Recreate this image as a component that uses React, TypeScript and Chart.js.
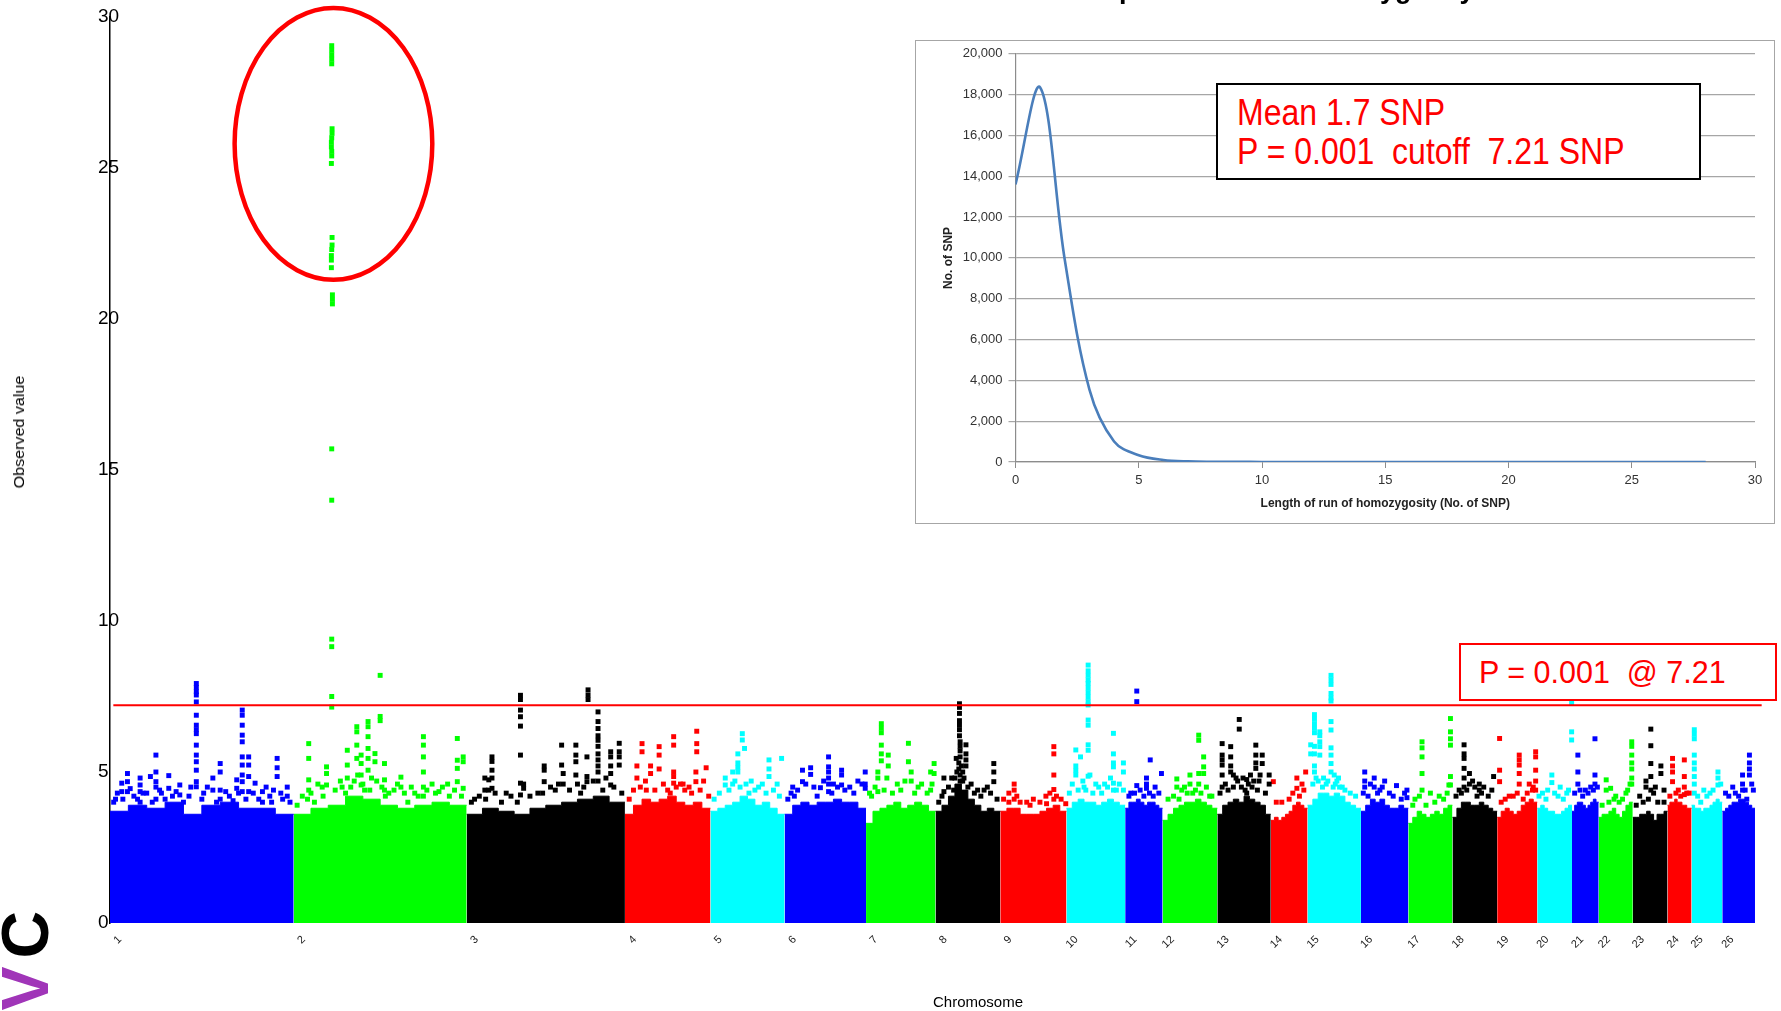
import React, { useEffect, useRef } from 'react';
import { Chart, registerables } from 'chart.js';

Chart.register(...registerables);

const FONT = '"Liberation Sans", Arial, Helvetica, sans-serif';

// ---------- main Manhattan plot data ----------
const chromLabels = ['1','2','3','4','5','6','7','8','9','10','11','12','13','14','15','16','17','18','19','20','21','22','23','24','25','26'];
// chromosome lengths (Mb)
const chromLengths = [275,259,237,128,111,122,104,97,99,88,56,82,80,55,80,71,66,67,60,52,40,51,52,36,46,49];
const palette = ['#0000ff','#00ff00','#000000','#ff0000','#00ffff'];
const threshold = 7.21;
const xMax = 2475;

// height of the dense (solid) band along each chromosome, 10 segments left→right
const bandTop: number[][] = [
  [3.7,3.9,3.8,4.0,3.6,3.9,4.0,3.8,3.8,3.6],
  [3.6,3.8,3.9,4.2,4.1,3.9,3.8,3.9,4.0,3.9],
  [3.6,3.8,3.7,3.6,3.8,3.9,4.0,4.1,4.2,4.0],
  [3.6,3.9,4.1,4.0,4.1,4.2,4.0,3.9,4.0,3.8],
  [3.7,3.8,3.9,4.0,4.2,4.1,3.9,4.0,3.8,3.6],
  [3.6,3.9,4.0,3.9,4.0,4.0,4.1,4.0,4.0,3.8],
  [3.3,3.7,3.8,3.9,4.0,3.8,3.9,4.0,3.9,3.7],
  [3.7,3.9,4.2,4.6,4.4,4.1,3.9,3.7,3.8,3.7],
  [3.7,3.8,3.8,3.6,3.6,3.6,3.7,3.8,3.9,3.7],
  [3.8,4.0,4.1,4.0,4.0,3.9,4.0,4.1,4.0,3.9],
  [3.8,4.0,4.0,4.1,4.0,3.9,4.0,4.0,3.9,3.8],
  [3.4,3.6,3.8,3.9,4.0,4.0,4.1,4.0,3.9,3.8],
  [3.6,3.9,4.0,4.1,4.0,4.2,4.1,4.0,3.9,3.6],
  [3.4,3.5,3.4,3.5,3.6,3.7,3.9,4.0,3.9,3.8],
  [3.9,4.1,4.3,4.3,4.2,4.3,4.2,4.0,3.9,3.8],
  [3.7,3.9,4.1,4.0,4.1,3.9,3.8,3.8,3.9,3.8],
  [3.3,3.5,3.7,3.6,3.5,3.6,3.7,3.6,3.8,3.9],
  [3.5,3.8,4.0,4.0,3.9,3.9,4.0,3.9,3.8,3.7],
  [3.5,3.7,3.8,3.7,3.6,3.7,3.9,4.0,4.1,4.0],
  [3.8,3.9,3.8,3.7,3.7,3.6,3.6,3.7,3.8,3.9],
  [3.7,3.9,4.0,4.0,3.9,3.8,3.9,4.0,4.1,4.0],
  [3.5,3.6,3.6,3.7,3.8,3.6,3.5,3.7,3.9,4.0],
  [3.5,3.5,3.6,3.6,3.7,3.6,3.4,3.6,3.6,3.7],
  [3.9,4.0,4.0,4.1,4.0,4.0,3.9,3.9,3.8,3.8],
  [3.9,3.8,3.8,3.7,3.8,3.8,3.9,4.0,4.1,4.0],
  [3.7,3.8,3.9,4.0,4.0,4.1,4.1,4.0,3.9,3.8],
];

// individual SNP scores standing out above the band: [fraction along chromosome, observed value]
const hits: number[][][] = [
  [[.47,7.93],[.47,7.8],[.47,7.66],[.47,7.55],[.47,7.32],[.47,6.88],[.47,6.55],[.47,6.4],[.47,6.27],[.47,5.89],[.47,5.56],[.47,5.34],[.47,5.06],[.47,4.68],[.47,4.51],
   [.72,7.05],[.72,6.88],[.72,6.55],[.72,6.22],[.72,6.0],[.72,5.5],[.72,5.23],[.72,4.9],[.72,4.68],[.72,4.35],
   [.25,5.56],[.25,5.0],[.25,4.68],[.25,4.5],[.25,4.1],[.095,4.95],[.095,4.68],[.095,4.35],[.064,4.63],[.064,4.35],
   [.164,4.8],[.164,4.57],[.164,4.35],[.164,4.0],[.22,4.85],[.32,4.88],[.32,4.46],[.38,4.57],[.38,4.24],[.34,4.2],
   [.56,4.8],[.56,4.4],[.6,5.28],[.6,5.0],[.6,4.4],[.6,4.1],[.69,4.74],[.69,4.46],[.755,5.5],[.755,5.23],[.755,4.85],[.755,4.35],
   [.79,4.63],[.83,4.35],[.83,4.0],[.91,5.45],[.91,5.14],[.91,4.85],[.965,4.5],[.965,4.2],[.87,4.2],[.89,4.4],
   [.03,4.1],[.13,4.2],[.2,4.3],[.28,4.3],[.43,4.2],[.51,4.3],[.65,4.2],[.94,4.1]],
  [[.22,29.05],[.22,28.9],[.22,28.75],[.22,28.6],[.22,28.45],
   [.222,26.3],[.222,26.15],[.22,26.0],[.218,25.85],[.218,25.7],[.22,25.55],[.22,25.4],[.218,25.15],
   [.222,22.7],[.222,22.45],[.22,22.3],[.218,22.1],[.218,21.95],[.218,21.7],[.224,20.8],[.224,20.65],[.224,20.5],
   [.22,15.7],[.22,14.0],[.22,9.4],[.22,9.15],[.22,7.5],[.22,7.15],
   [.5,8.2],[.5,6.84],[.5,6.7],[.43,6.67],[.43,6.5],[.43,6.17],[.43,5.78],[.43,5.45],[.43,5.06],[.365,6.5],[.365,6.33],[.365,5.89],[.365,5.45],
   [.087,5.94],[.087,5.45],[.087,4.74],[.087,4.4],[.19,5.17],[.19,4.95],[.19,4.57],[.31,5.72],[.31,5.23],[.31,4.8],[.39,5.56],[.39,5.28],[.39,4.9],[.39,4.57],
   [.47,5.61],[.47,5.34],[.525,5.28],[.525,4.74],[.525,4.4],[.75,6.17],[.75,5.89],[.75,5.5],[.75,5.0],[.75,4.5],[.75,4.2],
   [.946,6.11],[.946,5.39],[.946,5.12],[.946,4.68],[.98,5.5],[.98,5.34],[.98,4.46],[.62,4.83],[.62,4.5],[.8,4.6],[.84,4.35],[.89,4.6],
   [.28,4.5],[.3,4.3],[.08,4.1],[.12,4.0],[.165,4.5],[.53,4.2],[.66,4.0],[.35,4.7],[.41,4.4],[.45,4.8],[.58,4.4],[.7,4.3]],
  [[.34,7.54],[.34,7.4],[.34,7.05],[.34,6.83],[.34,6.52],[.34,5.56],[.34,4.63],[.34,4.24],
   [.16,5.5],[.16,5.35],[.16,5.06],[.16,4.8],[.16,4.46],[.115,4.8],[.115,4.4],[.14,4.74],[.14,4.4],
   [.767,7.72],[.767,7.55],[.767,7.4],[.83,6.99],[.83,6.67],[.83,6.44],[.83,6.2],[.83,6.05],[.83,5.85],[.83,5.6],[.83,5.4],[.83,5.2],[.83,5.0],[.83,4.7],
   [.964,5.95],[.964,5.67],[.964,5.5],[.964,5.23],[.91,5.67],[.91,5.5],[.91,5.2],[.91,4.95],[.91,4.57],
   [.69,5.89],[.69,5.56],[.69,5.34],[.69,4.9],[.6,5.89],[.6,5.23],[.49,5.2],[.49,5.06],[.49,4.68],[.61,4.95],[.61,4.6],
   [.76,5.5],[.76,4.85],[.76,4.68],[.36,4.6],[.36,4.46],[.45,4.3],[.56,4.4],[.72,4.3],[.25,4.3],[.05,4.1]],
  [[.84,6.35],[.84,5.94],[.84,5.67],[.57,6.17],[.57,5.89],[.57,5.0],[.57,4.85],[.57,4.63],[.2,5.94],[.2,5.67],[.4,5.84],[.4,5.56],[.4,5.1],
   [.14,5.2],[.14,4.8],[.95,5.14],[.83,5.0],[.83,4.68],[.3,5.2],[.3,4.95],[.65,4.6],[.7,4.4],[.75,4.5],[.5,4.4],[.25,4.4]],
  [[.43,6.27],[.43,6.06],[.46,5.78],[.37,5.6],[.37,5.3],[.37,5.15],[.37,5.0],[.79,5.4],[.79,5.1],[.79,4.85],[.96,5.45],
   [.2,4.8],[.2,4.57],[.3,5.0],[.3,4.6],[.55,4.7],[.65,4.5],[.9,4.6]],
  [[.54,5.5],[.54,5.17],[.54,5.0],[.54,4.8],[.54,4.6],[.54,4.35],[.32,5.14],[.32,4.92],[.22,5.06],[.22,4.68],[.7,5.06],[.7,4.9],[.7,4.57],
   [.99,5.0],[.99,4.6],[.99,4.46],[.44,4.48],[.1,4.5],[.12,4.2],[.6,4.6],[.8,4.5],[.9,4.7]],
  [[.22,6.6],[.22,6.45],[.22,6.3],[.22,5.89],[.22,5.6],[.22,5.37],[.61,5.95],[.61,5.34],[.32,5.56],[.32,5.2],[.65,5.0],[.65,4.7],
   [.98,5.28],[.98,4.95],[.17,5.0],[.17,4.8],[.17,4.35],[.93,5.0],[.93,4.4],[.45,4.6],[.75,4.5],[.05,4.3]],
  [[.37,7.26],[.37,7.14],[.37,6.94],[.37,6.7],[.37,6.55],[.37,6.4],[.37,6.2],[.38,6.0],[.38,5.85],[.38,5.7],[.38,5.5],[.36,5.3],[.36,5.1],[.38,4.9],[.38,4.7],[.35,4.5],
   [.47,5.9],[.47,5.6],[.47,5.4],[.47,5.2],[.9,5.28],[.9,5.0],[.9,4.68],[.8,4.5],[.13,4.8],[.13,4.35],[.32,5.45],[.3,4.8],[.42,5.0],[.42,4.7],[.55,4.6],[.65,4.4]],
  [[.81,5.84],[.81,5.6],[.81,4.9],[.81,4.42],[.81,4.1],[.21,4.6],[.21,4.4],[.21,4.1],[.13,4.3],[.13,4.0],[.69,4.2],[.7,3.95],[.99,3.95],[.4,4.0],[.5,4.1]],
  [[.37,8.54],[.37,8.35],[.37,8.2],[.37,8.05],[.37,7.93],[.37,7.78],[.37,7.63],[.37,7.48],[.37,7.33],[.37,7.22],[.37,6.72],[.37,6.55],[.37,5.9],[.37,5.72],[.37,4.86],
   [.8,6.28],[.8,5.6],[.8,5.3],[.8,5.17],[.8,4.63],[.8,4.4],[.16,5.73],[.16,5.2],[.16,5.05],[.16,4.9],[.24,5.5],[.97,5.3],[.97,5.0],[.97,4.4],[.4,4.9],
   [.55,4.5],[.65,4.6],[.3,4.5]],
  [[.31,7.68],[.31,7.33],[.67,5.4],[.97,4.95],[.57,4.8],[.57,4.6],[.57,4.46],[.31,4.55],[.8,4.5],[.15,4.3]],
  [[.66,6.22],[.66,6.05],[.75,5.5],[.75,5.17],[.75,4.95],[.26,4.77],[.26,4.5],[.5,4.9],[.5,4.6],[.66,4.95],[.66,4.6],[.86,4.2],[.1,4.1],[.35,4.4],[.55,4.3]],
  [[.41,6.74],[.41,6.42],[.09,5.94],[.09,5.56],[.09,5.4],[.09,5.23],[.09,4.9],[.09,4.5],[.25,5.84],[.25,5.5],[.25,5.2],[.25,5.0],
   [.72,5.89],[.72,5.56],[.72,5.3],[.72,5.12],[.84,5.56],[.84,5.28],[.97,4.9],[.97,4.6],[.55,4.75],[.55,4.3],[.35,4.8],[.45,4.5],[.62,4.9],[.65,4.5],[.3,4.5],[.78,4.7]],
  [[.07,4.68],[.95,5.0],[.71,4.8],[.71,4.46],[.85,4.6],[.5,4.1],[.3,4.0]],
  [[.44,8.2],[.44,8.05],[.44,7.9],[.44,7.6],[.44,7.45],[.44,7.35],[.44,6.67],[.44,6.39],[.44,5.8],[.44,5.56],[.44,5.28],[.44,5.0],
   [.13,6.9],[.13,6.75],[.13,6.6],[.13,6.45],[.13,6.3],[.13,5.85],[.13,5.6],[.13,5.2],[.13,5.0],[.23,6.33],[.23,6.2],[.23,6.0],[.23,5.84],[.23,5.56],
   [.06,5.9],[.06,5.6],[.3,4.8],[.35,4.6],[.55,4.7],[.6,4.5],[.5,4.9],[.2,4.7],[.7,4.4]],
  [[.08,5.0],[.08,4.7],[.08,4.5],[.28,4.8],[.28,4.5],[.5,4.7],[.75,4.55],[.97,4.4],[.97,4.15],[.2,4.6],[.4,4.4]],
  [[.31,6.0],[.31,5.8],[.31,5.5],[.31,4.95],[.31,4.4],[.955,6.77],[.955,6.33],[.955,6.1],[.955,5.89],[.955,4.85],[.955,4.57],[.92,4.57],[.5,4.3],[.7,4.2],[.15,4.1]],
  [[.26,5.9],[.26,5.6],[.26,5.45],[.26,5.12],[.26,4.8],[.26,4.5],[.38,4.95],[.38,4.6],[.6,4.6],[.6,4.4],[.92,4.85],[.45,4.7],[.7,4.5],[.15,4.4]],
  [[.06,6.11],[.06,5.06],[.06,4.68],[.55,5.56],[.55,5.4],[.55,5.23],[.55,4.95],[.55,4.6],[.96,5.67],[.96,5.5],[.96,5.06],[.96,4.7],[.96,4.4],[.3,4.2],[.8,4.6],[.88,4.4]],
  [[.99,7.75],[.99,7.3],[.99,6.33],[.99,6.06],[.42,4.9],[.42,4.65],[.66,4.5],[.9,4.4],[.15,4.3],[.3,4.4]],
  [[.86,6.1],[.86,4.9],[.86,4.6],[.22,5.56],[.22,5.0],[.22,4.6],[.5,4.4],[.7,4.5]],
  [[.97,6.0],[.97,5.85],[.97,5.56],[.97,5.3],[.97,5.1],[.97,4.8],[.97,4.6],[.22,4.74],[.22,4.4],[.35,4.46],[.5,4.2],[.6,4.0],[.8,4.3]],
  [[.52,6.42],[.52,5.87],[.52,5.28],[.52,4.85],[.52,4.4],[.38,4.7],[.38,4.5],[.81,5.2],[.81,4.95],[.2,4.2],[.65,4.5],[.9,4.4]],
  [[.21,5.45],[.21,5.2],[.21,5.0],[.21,4.68],[.7,5.4],[.7,4.85],[.7,4.5],[.7,4.25],[.45,4.4],[.9,4.3]],
  [[.09,6.4],[.09,6.25],[.09,6.1],[.09,5.56],[.09,5.3],[.09,5.1],[.09,4.85],[.09,4.6],[.09,4.3],[.86,5.0],[.86,4.8],[.86,4.57],[.4,4.4],[.6,4.3]],
  [[.83,5.56],[.83,5.3],[.83,5.1],[.83,4.9],[.62,4.9],[.62,4.6],[.62,4.4],[.32,4.5],[.1,4.3],[.5,4.2],[.95,4.4]],
];

// dense scatter fringe just above the band: [fraction along chromosome, observed value]
const fringe: number[][][] = [
  [[.02,4.0],[.04,4.3],[.07,4.1],[.11,4.45],[.15,4.1],[.18,4.3],[.23,4.0],[.27,4.4],[.3,4.1],[.36,4.35],[.4,4.0],[.44,4.5],[.5,4.1],[.53,4.5],[.58,4.0],[.63,4.35],[.67,4.05],[.7,4.3],[.74,4.1],[.78,4.3],[.81,4.1],[.85,4.5],[.88,4.0],[.93,4.3],[.98,4.0]],
  [[.02,3.9],[.05,4.2],[.1,4.3],[.14,4.6],[.17,4.2],[.24,4.4],[.27,4.7],[.33,4.5],[.37,4.9],[.4,4.6],[.44,4.4],[.48,4.7],[.51,4.5],[.55,4.3],[.6,4.6],[.64,4.3],[.68,4.5],[.72,4.2],[.77,4.4],[.82,4.3],[.86,4.5],[.9,4.2],[.93,4.4],[.97,4.2]],
  [[.03,4.0],[.08,4.2],[.12,4.1],[.18,4.3],[.22,4.0],[.28,4.2],[.32,4.0],[.4,4.2],[.48,4.3],[.53,4.5],[.58,4.6],[.65,4.4],[.7,4.6],[.74,4.5],[.8,4.7],[.86,4.4],[.88,4.8],[.93,4.5],[.98,4.3]],
  [[.05,4.1],[.1,4.4],[.18,4.5],[.24,4.7],[.35,4.4],[.45,4.6],[.53,4.3],[.6,4.5],[.68,4.6],[.78,4.3],[.88,4.4],[.92,4.7],[.98,4.2]],
  [[.05,4.1],[.12,4.3],[.25,4.4],[.33,4.7],[.4,4.5],[.48,4.6],[.52,4.3],[.6,4.4],[.7,4.6],[.75,4.3],[.85,4.4],[.93,4.2]],
  [[.04,4.1],[.08,4.3],[.16,4.4],[.26,4.6],[.36,4.5],[.4,4.2],[.48,4.7],[.58,4.3],[.65,4.5],[.74,4.4],[.85,4.3],[.95,4.6]],
  [[.08,4.2],[.13,4.5],[.26,4.4],[.3,4.8],[.38,4.3],[.5,4.4],[.56,4.7],[.7,4.3],[.8,4.6],[.88,4.3],[.95,4.6]],
  [[.05,4.0],[.1,4.2],[.2,4.5],[.25,4.8],[.28,4.4],[.33,5.0],[.4,5.2],[.44,4.8],[.5,4.5],[.6,4.3],[.7,4.2],[.75,4.4],[.85,4.3],[.95,4.1]],
  [[.05,4.1],[.25,4.2],[.3,4.0],[.45,3.9],[.6,4.0],[.75,4.3],[.85,4.2],[.92,4.1]],
  [[.05,4.3],[.1,4.6],[.2,4.4],[.28,4.7],[.33,4.4],[.45,4.3],[.5,4.6],[.6,4.3],[.7,4.5],[.75,4.8],[.85,4.4],[.9,4.6]],
  [[.1,4.2],[.25,4.3],[.4,4.4],[.5,4.2],[.65,4.3],[.75,4.2],[.9,4.3]],
  [[.2,4.2],[.3,4.1],[.4,4.5],[.45,4.3],[.6,4.4],[.7,4.3],[.8,4.5],[.9,4.2]],
  [[.05,4.3],[.15,4.6],[.2,4.4],[.3,4.9],[.38,4.7],[.48,4.8],[.52,4.4],[.58,4.6],[.68,4.7],[.75,4.4],[.8,4.9],[.9,4.3]],
  [[.15,4.0],[.6,4.3],[.78,4.2],[.9,4.4]],
  [[.1,4.6],[.16,4.8],[.28,4.5],[.38,4.7],[.48,4.5],[.52,4.6],[.58,4.8],[.65,4.5],[.8,4.3],[.9,4.2]],
  [[.05,4.3],[.15,4.2],[.35,4.3],[.45,4.5],[.6,4.3],[.68,4.2],[.85,4.1],[.92,4.3]],
  [[.1,3.9],[.25,4.2],[.4,3.9],[.6,4.0],[.8,4.1],[.88,4.3]],
  [[.08,4.2],[.2,4.3],[.32,4.4],[.5,4.5],[.55,4.2],[.65,4.3],[.8,4.2],[.88,4.4]],
  [[.1,4.0],[.2,4.1],[.4,4.2],[.5,4.3],[.65,4.1],[.75,4.3],[.9,4.5]],
  [[.05,4.2],[.25,4.1],[.5,4.3],[.6,4.2],[.75,4.1],[.85,4.3]],
  [[.1,4.3],[.3,4.4],[.4,4.2],[.6,4.3],[.8,4.4],[.95,4.5]],
  [[.1,3.9],[.3,4.0],[.45,4.1],[.7,4.1],[.85,4.4],[.92,4.6]],
  [[.1,3.9],[.3,4.0],[.45,4.1],[.6,4.3],[.72,4.0],[.9,4.0]],
  [[.1,4.2],[.35,4.3],[.55,4.2],[.8,4.3]],
  [[.2,4.2],[.3,4.0],[.5,4.2],[.7,4.4],[.95,4.6]],
  [[.2,4.2],[.4,4.3],[.7,4.4],[.75,4.1],[.9,4.6]],
];

// highlighted region (ellipse) around the chromosome 2 signal
const highlight = { chrom: 2, frac: 0.23, y: 25.8, radiusMb: 148, radiusY: 4.5 };

// ---------- inset distribution data ----------
const rohLength = [0,1,2,3,4,5,6,7,8,9,10,11,12,13,14,15,16,17,18,19,20,21,22,23,24,25,26,27,28];
const rohCount = [13600,18350,9900,3550,1000,330,100,30,12,6,3,2,1,1,1,0,0,0,0,0,0,0,0,0,0,0,0,0,0];

const chromStart: number[] = [];
{
  let acc = 0;
  for (const len of chromLengths) { chromStart.push(acc); acc += len; }
}

const ellipsePlugin = {
  id: 'ellipseHighlight',
  afterDatasetsDraw(chart: any) {
    const xs = chart.scales.x, ys = chart.scales.y;
    const ci = highlight.chrom - 1;
    const cxVal = chromStart[ci] + highlight.frac * chromLengths[ci];
    const cx = xs.getPixelForValue(cxVal);
    const cy = ys.getPixelForValue(highlight.y);
    const rx = Math.abs(xs.getPixelForValue(cxVal + highlight.radiusMb) - cx);
    const ry = Math.abs(ys.getPixelForValue(highlight.y + highlight.radiusY) - cy);
    const ctx = chart.ctx;
    ctx.save();
    ctx.beginPath();
    ctx.ellipse(cx, cy, rx, ry, 0, 0, Math.PI * 2);
    ctx.strokeStyle = '#ff0000';
    ctx.lineWidth = 4.5;
    ctx.stroke();
    ctx.restore();
  },
};

function mainConfig(): any {
  const datasets: any[] = [];
  chromLengths.forEach((len, i) => {
    const color = palette[i % palette.length];
    const start = chromStart[i];
    const seg = bandTop[i];
    const pts = seg.map((h, k) => ({ x: start + (len * k) / seg.length, y: h }));
    pts.push({ x: start + len, y: seg[seg.length - 1] });
    datasets.push({
      type: 'line', data: pts, stepped: true, fill: 'origin',
      backgroundColor: color, borderColor: color, borderWidth: 1, pointRadius: 0, order: 3,
    });
    datasets.push({
      type: 'scatter',
      data: [...fringe[i], ...hits[i]].map(([f, v]) => ({ x: start + f * len, y: v })),
      pointStyle: 'rect', pointRadius: 3.5, pointBorderWidth: 0,
      backgroundColor: color, borderColor: color, order: 2,
    });
  });
  datasets.push({
    type: 'line', data: [{ x: 5, y: threshold }, { x: 2473, y: threshold }],
    borderColor: '#ff0000', borderWidth: 2.2, pointRadius: 0, fill: false, order: 1,
  });
  return {
    type: 'scatter',
    data: { datasets },
    plugins: [ellipsePlugin],
    options: {
      animation: false, responsive: false, devicePixelRatio: 1, events: [],
      layout: { padding: { left: 0, right: 18, top: 17, bottom: 0 } },
      plugins: { legend: { display: false }, tooltip: { enabled: false } },
      scales: {
        x: {
          type: 'linear', min: 0, max: xMax,
          grid: { display: false, drawTicks: false }, border: { display: false },
          afterBuildTicks: (s: any) => { s.ticks = chromStart.map((v) => ({ value: v })); },
          afterFit: (s: any) => { s.height = 88; },
          ticks: {
            autoSkip: false, minRotation: 45, maxRotation: 45, padding: 10, labelOffset: 10,
            font: { family: FONT, size: 11 }, color: '#222',
            callback: (_v: any, i: number) => chromLabels[i],
          },
        },
        y: {
          min: 0, max: 30,
          afterFit: (s: any) => { s.width = 110; },
          grid: { display: false, drawTicks: false },
          border: { display: true, color: '#000', width: 1.5 },
          ticks: { stepSize: 5, mirror: true, padding: -12, font: { family: FONT, size: 19 }, color: '#000' },
        },
      },
    },
  };
}

function insetConfig(): any {
  return {
    type: 'line',
    data: {
      datasets: [{
        data: rohLength.map((x, i) => ({ x, y: rohCount[i] })),
        borderColor: '#4a7ebb', borderWidth: 2.6, pointRadius: 0, tension: 0.35, fill: false,
      }],
    },
    options: {
      animation: false, responsive: false, devicePixelRatio: 1, events: [],
      layout: { padding: { left: 0, right: 20, top: 8, bottom: 0 } },
      plugins: { legend: { display: false }, tooltip: { enabled: false } },
      scales: {
        x: {
          type: 'linear', min: 0, max: 30,
          afterFit: (s: any) => { s.height = 62; },
          ticks: { stepSize: 5, padding: 5, maxRotation: 0, font: { family: FONT, size: 13 }, color: '#333' },
          grid: { drawOnChartArea: false, drawTicks: true, tickLength: 6, color: '#8c8c8c' },
          border: { color: '#8c8c8c', width: 1.2 },
          title: {
            display: true, text: 'Length of run of homozygosity (No. of SNP)',
            font: { family: FONT, size: 12, weight: 'bold' }, color: '#222', padding: { top: 0, bottom: 13 },
          },
        },
        y: {
          min: 0, max: 20000,
          afterFit: (s: any) => { s.width = 100.5; },
          ticks: {
            stepSize: 2000, padding: 6, font: { family: FONT, size: 13 }, color: '#333',
            callback: (v: any) => Number(v).toLocaleString('en-US'),
          },
          grid: { color: '#a6a6a6', lineWidth: 1.2, tickLength: 7 },
          border: { color: '#8c8c8c', width: 1.2 },
          title: {
            display: true, text: 'No. of SNP',
            font: { family: FONT, size: 12, weight: 'bold' }, color: '#222', padding: { top: 26, bottom: 0 },
          },
        },
      },
    },
  };
}

const abs = (extra: React.CSSProperties): React.CSSProperties => ({ position: 'absolute', whiteSpace: 'pre', ...extra });

export default function App() {
  const mainRef = useRef<HTMLCanvasElement>(null);
  const insetRef = useRef<HTMLCanvasElement>(null);

  useEffect(() => {
    const main = new Chart(mainRef.current as HTMLCanvasElement, mainConfig());
    const inset = new Chart(insetRef.current as HTMLCanvasElement, insetConfig());
    return () => { main.destroy(); inset.destroy(); };
  }, []);

  return (
    <div style={{ position: 'fixed', left: 0, top: 0, width: 1781, height: 1011, overflow: 'hidden', background: '#fff', fontFamily: FONT }}>
      <canvas ref={mainRef} width={1781} height={1011} style={{ position: 'absolute', left: 0, top: 0, width: 1781, height: 1011 }} />

      {/* partially visible title */}
      <div style={abs({ left: 954, top: -24, fontSize: 27, lineHeight: '27px', fontWeight: 'bold', color: '#000' })}>
        Permutation plot of run of homozygosity scores
      </div>

      {/* axis titles */}
      <div style={abs({ left: 19, top: 432, fontSize: 14, lineHeight: '14px', color: '#000', transform: 'translate(-50%, -50%) rotate(-90deg) scaleX(1.15)' })}>
        Observed value
      </div>
      <div style={abs({ left: 978, top: 1001, fontSize: 15, lineHeight: '15px', color: '#000', transform: 'translate(-50%, -50%)' })}>
        Chromosome
      </div>

      {/* threshold label */}
      <div style={abs({ left: 1459, top: 643, width: 318, height: 58, border: '2.5px solid #ff0000', boxSizing: 'border-box', background: '#fff' })} />
      <div style={abs({ left: 1479, top: 657, fontSize: 30.5, lineHeight: '30px', color: '#ff0000' })}>P = 0.001  @ 7.21</div>

      {/* inset distribution chart */}
      <canvas ref={insetRef} width={860} height={484} style={{ position: 'absolute', left: 915, top: 40, width: 860, height: 484, background: '#fff' }} />
      <div style={abs({ left: 915, top: 40, width: 860, height: 484, border: '1.5px solid #a6a6a6', boxSizing: 'border-box' })} />
      <div style={abs({ left: 1216, top: 83, width: 485, height: 97, border: '2px solid #000', boxSizing: 'border-box', background: '#fff' })} />
      <div style={abs({ left: 1237, top: 96, fontSize: 32, lineHeight: '33px', color: '#ff0000', transformOrigin: 'left center', transform: 'scaleY(1.15)' })}>Mean 1.7 SNP</div>
      <div style={abs({ left: 1237, top: 135, fontSize: 32, lineHeight: '33px', color: '#ff0000', transformOrigin: 'left center', transform: 'scaleY(1.15)' })}>P = 0.001  cutoff  7.21 SNP</div>

      {/* logo */}
      <div style={abs({ left: -8, top: 1065, fontSize: 66, lineHeight: '66px', fontWeight: 'bold', letterSpacing: 8, color: '#000', transformOrigin: '0 0', transform: 'rotate(-90deg)' })}>
        R<span style={{ color: '#a035b8' }}>V</span>C
      </div>
    </div>
  );
}
